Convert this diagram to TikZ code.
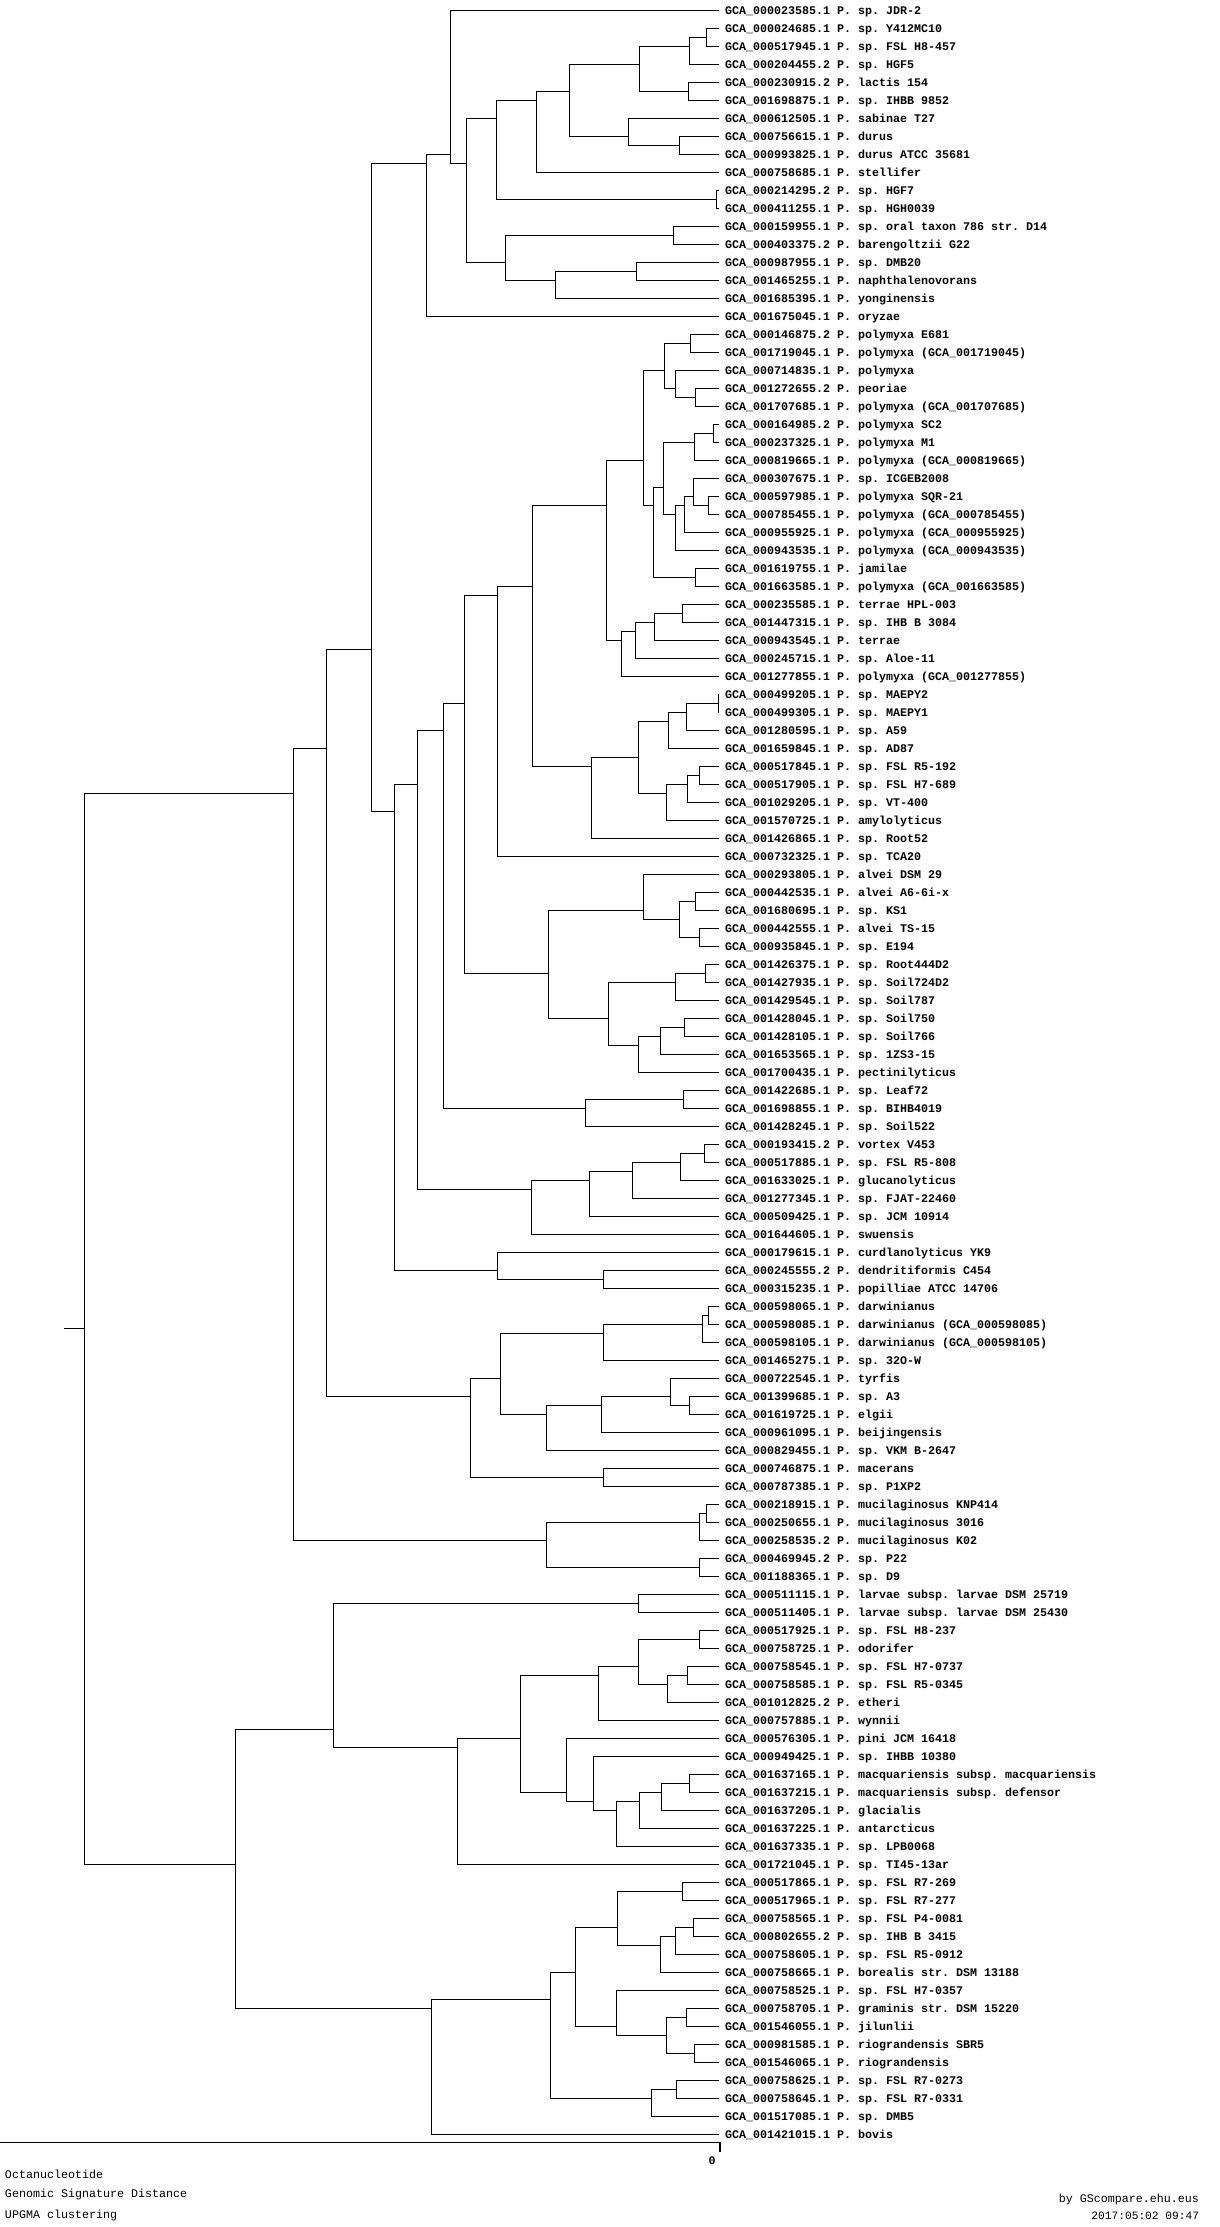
\documentclass[tikz,border=0pt]{standalone}
\usepackage{fontspec}
\setmonofont{Liberation Mono}
\usepackage{tikz}

\tikzset{
	branch/.style={line width=1.1pt, line join=miter},
	leaflbl/.style={anchor=west, inner xsep=6pt, inner ysep=0pt, outer sep=0pt, text height=7.6pt, text depth=0pt, font=\ttfamily\bfseries\fontsize{11.67}{14}\selectfont},
	infolbl/.style={inner sep=0pt, outer sep=0pt, font=\ttfamily\fontsize{11.67}{14}\selectfont}
}

\begin{document}
\begin{tikzpicture}[x=1pt, y=-1pt]
			\useasboundingbox (0,0) rectangle (1220,2227);

			% leaves: tip point and label
			\foreach \lab [count=\i] in {
				GCA\_000023585.1 P. sp. JDR-2, GCA\_000024685.1 P. sp. Y412MC10, GCA\_000517945.1 P. sp. FSL H8-457,
				GCA\_000204455.2 P. sp. HGF5, GCA\_000230915.2 P. lactis 154, GCA\_001698875.1 P. sp. IHBB 9852,
				GCA\_000612505.1 P. sabinae T27, GCA\_000756615.1 P. durus, GCA\_000993825.1 P. durus ATCC 35681,
				GCA\_000758685.1 P. stellifer, GCA\_000214295.2 P. sp. HGF7, GCA\_000411255.1 P. sp. HGH0039,
				GCA\_000159955.1 P. sp. oral taxon 786 str. D14, GCA\_000403375.2 P. barengoltzii G22, GCA\_000987955.1 P. sp. DMB20,
				GCA\_001465255.1 P. naphthalenovorans, GCA\_001685395.1 P. yonginensis, GCA\_001675045.1 P. oryzae,
				GCA\_000146875.2 P. polymyxa E681, GCA\_001719045.1 P. polymyxa (GCA\_001719045), GCA\_000714835.1 P. polymyxa,
				GCA\_001272655.2 P. peoriae, GCA\_001707685.1 P. polymyxa (GCA\_001707685), GCA\_000164985.2 P. polymyxa SC2,
				GCA\_000237325.1 P. polymyxa M1, GCA\_000819665.1 P. polymyxa (GCA\_000819665), GCA\_000307675.1 P. sp. ICGEB2008,
				GCA\_000597985.1 P. polymyxa SQR-21, GCA\_000785455.1 P. polymyxa (GCA\_000785455), GCA\_000955925.1 P. polymyxa (GCA\_000955925),
				GCA\_000943535.1 P. polymyxa (GCA\_000943535), GCA\_001619755.1 P. jamilae, GCA\_001663585.1 P. polymyxa (GCA\_001663585),
				GCA\_000235585.1 P. terrae HPL-003, GCA\_001447315.1 P. sp. IHB B 3084, GCA\_000943545.1 P. terrae,
				GCA\_000245715.1 P. sp. Aloe-11, GCA\_001277855.1 P. polymyxa (GCA\_001277855), GCA\_000499205.1 P. sp. MAEPY2,
				GCA\_000499305.1 P. sp. MAEPY1, GCA\_001280595.1 P. sp. A59, GCA\_001659845.1 P. sp. AD87,
				GCA\_000517845.1 P. sp. FSL R5-192, GCA\_000517905.1 P. sp. FSL H7-689, GCA\_001029205.1 P. sp. VT-400,
				GCA\_001570725.1 P. amylolyticus, GCA\_001426865.1 P. sp. Root52, GCA\_000732325.1 P. sp. TCA20,
				GCA\_000293805.1 P. alvei DSM 29, GCA\_000442535.1 P. alvei A6-6i-x, GCA\_001680695.1 P. sp. KS1,
				GCA\_000442555.1 P. alvei TS-15, GCA\_000935845.1 P. sp. E194, GCA\_001426375.1 P. sp. Root444D2,
				GCA\_001427935.1 P. sp. Soil724D2, GCA\_001429545.1 P. sp. Soil787, GCA\_001428045.1 P. sp. Soil750,
				GCA\_001428105.1 P. sp. Soil766, GCA\_001653565.1 P. sp. 1ZS3-15, GCA\_001700435.1 P. pectinilyticus,
				GCA\_001422685.1 P. sp. Leaf72, GCA\_001698855.1 P. sp. BIHB4019, GCA\_001428245.1 P. sp. Soil522,
				GCA\_000193415.2 P. vortex V453, GCA\_000517885.1 P. sp. FSL R5-808, GCA\_001633025.1 P. glucanolyticus,
				GCA\_001277345.1 P. sp. FJAT-22460, GCA\_000509425.1 P. sp. JCM 10914, GCA\_001644605.1 P. swuensis,
				GCA\_000179615.1 P. curdlanolyticus YK9, GCA\_000245555.2 P. dendritiformis C454, GCA\_000315235.1 P. popilliae ATCC 14706,
				GCA\_000598065.1 P. darwinianus, GCA\_000598085.1 P. darwinianus (GCA\_000598085), GCA\_000598105.1 P. darwinianus (GCA\_000598105),
				GCA\_001465275.1 P. sp. 32O-W, GCA\_000722545.1 P. tyrfis, GCA\_001399685.1 P. sp. A3,
				GCA\_001619725.1 P. elgii, GCA\_000961095.1 P. beijingensis, GCA\_000829455.1 P. sp. VKM B-2647,
				GCA\_000746875.1 P. macerans, GCA\_000787385.1 P. sp. P1XP2, GCA\_000218915.1 P. mucilaginosus KNP414,
				GCA\_000250655.1 P. mucilaginosus 3016, GCA\_000258535.2 P. mucilaginosus K02, GCA\_000469945.2 P. sp. P22,
				GCA\_001188365.1 P. sp. D9, GCA\_000511115.1 P. larvae subsp. larvae DSM 25719, GCA\_000511405.1 P. larvae subsp. larvae DSM 25430,
				GCA\_000517925.1 P. sp. FSL H8-237, GCA\_000758725.1 P. odorifer, GCA\_000758545.1 P. sp. FSL H7-0737,
				GCA\_000758585.1 P. sp. FSL R5-0345, GCA\_001012825.2 P. etheri, GCA\_000757885.1 P. wynnii,
				GCA\_000576305.1 P. pini JCM 16418, GCA\_000949425.1 P. sp. IHBB 10380, GCA\_001637165.1 P. macquariensis subsp. macquariensis,
				GCA\_001637215.1 P. macquariensis subsp. defensor, GCA\_001637205.1 P. glacialis, GCA\_001637225.1 P. antarcticus,
				GCA\_001637335.1 P. sp. LPB0068, GCA\_001721045.1 P. sp. TI45-13ar, GCA\_000517865.1 P. sp. FSL R7-269,
				GCA\_000517965.1 P. sp. FSL R7-277, GCA\_000758565.1 P. sp. FSL P4-0081, GCA\_000802655.2 P. sp. IHB B 3415,
				GCA\_000758605.1 P. sp. FSL R5-0912, GCA\_000758665.1 P. borealis str. DSM 13188, GCA\_000758525.1 P. sp. FSL H7-0357,
				GCA\_000758705.1 P. graminis str. DSM 15220, GCA\_001546055.1 P. jilunlii, GCA\_000981585.1 P. riograndensis SBR5,
				GCA\_001546065.1 P. riograndensis, GCA\_000758625.1 P. sp. FSL R7-0273, GCA\_000758645.1 P. sp. FSL R7-0331,
				GCA\_001517085.1 P. sp. DMB5, GCA\_001421015.1 P. bovis} {
			\coordinate (t\i) at (719,{10.3+18*(\i-1)});
			\node[leaflbl] (l\i) at (t\i) {\lab}; }

			% clades: name / height / mean leaf index
			\foreach \n/\x/\m in {L/706.3/2.5, J/689.3/3, K/688.3/5.5, H/639.3/4, M/679.3/8.5, I/628.3/8, G/569.3/5.5,
				E/536.3/6, F/716.3/11.5, C/496.3/7, N/673.3/13.5, P/636.3/15.5, O/555.3/16, D/505.3/15, B/466.3/9.5,
				A/450.3/9, Q/426.3/9.5, T/690.3/19.5, V/695.3/22.5, U/675.3/22, S/664.3/21, AC/713.3/24.5, AA/694.3/25,
				AF/708.3/28.5, AE/693.3/28, AD/684.3/28.5, AB/675.3/29, Y/663.3/27.5, Z/695.3/32.5, X/653.3/28.5,
				W/643.3/26, AK/682.3/34.5, AJ/654.3/35, AI/635.3/35.5, AH/621.3/36, AG/606.3/28.5, AS/718.3/39.5,
				AR/686.3/40, AP/668.3/40.5, AU/699.3/43.5, AT/687.3/44, AQ/666.3/44.5, AO/638.3/42.5, AN/591.3/43,
				AL/532.3/33, AM/497.3/33.5, BA/695.3/50.5, BB/699.3/52.5, AZ/679.3/51.5, AX/643.3/51, BE/705.3/54.5,
				BC/675.3/55, BG/684.3/57.5, BF/660.3/58, BD/638.3/58.5, AY/608.3/57, AW/548.3/54.5, AV/464.3/39.5,
				BJ/683.3/61.5, BI/585.3/62, BH/443.3/41, BP/704.3/64.5, BO/680.3/65, BN/632.3/65.5, BM/589.3/66,
				BL/531.3/66.5, BK/417.3/44, BS/603.3/71.5, BR/497.3/71, BQ/394.3/45.5, R/371.3/36.5, CA/708.3/73.5,
				BZ/702.3/74, BX/603.3/74.5, CD/689.3/78.5, CC/670.3/78, CB/601.3/78.5, BY/546.3/79, BV/500.3/77,
				BW/603.3/82.5, BU/470.3/78, BT/326.3/42, CI/706.3/84.5, CG/699.3/85, CH/699.3/87.5, CF/546.3/86,
				CE/293.3/44.5, CX/638.3/89.5, CP/699.3/91.5, CR/687.3/93.5, CQ/667.3/94, CO/638.3/93, CM/598.3/93.5,
				CW/689.3/99.5, CV/661.3/100, CU/639.3/100.5, CT/616.3/101, CS/593.3/100.5, CN/566.3/100, CL/520.3/97,
				CK/457.3/97.5, CJ/333.3/96.5, DE/682.3/105.5, DH/693.3/107.5, DG/675.3/108, DF/660.3/108.5,
				DC/617.3/107.5, DJ/686.3/112.5, DK/694.3/114.5, DI/666.3/113.5, DD/616.3/113, DA/575.3/110,
				DL/676.3/116.5, DB/651.3/117, CZ/550.3/111.5, CY/431.3/112, DM/235.3/104, root/84.3/74.25} {
			\coordinate (n\n) at (\x,{10.3+18*(\m-1)}); }
			\coordinate (stub) at (64,{10.3+18*73.25});

			% elbows: parent / upper child / lower child
			\foreach \p/\a/\b in {L/t2/t3, J/nL/t4, K/t5/t6, H/nJ/nK, M/t8/t9, I/t7/nM, G/nH/nI, E/nG/t10, F/t11/t12,
				C/nE/nF, N/t13/t14, P/t15/t16, O/nP/t17, D/nN/nO, B/nC/nD, A/t1/nB, Q/nA/t18,
				T/t19/t20, V/t22/t23, U/t21/nV, S/nT/nU, AC/t24/t25, AA/nAC/t26, AF/t28/t29, AE/t27/nAF, AD/nAE/t30,
				AB/nAD/t31, Y/nAA/nAB, Z/t32/t33, X/nY/nZ, W/nS/nX, AK/t34/t35, AJ/nAK/t36, AI/nAJ/t37, AH/nAI/t38,
				AG/nW/nAH, AS/t39/t40, AR/nAS/t41, AP/nAR/t42, AU/t43/t44, AT/nAU/t45, AQ/nAT/t46, AO/nAP/nAQ,
				AN/nAO/t47, AL/nAG/nAN, AM/nAL/t48, BA/t50/t51, BB/t52/t53, AZ/nBA/nBB, AX/t49/nAZ, BE/t54/t55,
				BC/nBE/t56, BG/t57/t58, BF/nBG/t59, BD/nBF/t60, AY/nBC/nBD, AW/nAX/nAY, AV/nAM/nAW, BJ/t61/t62,
				BI/nBJ/t63, BH/nAV/nBI, BP/t64/t65, BO/nBP/t66, BN/nBO/t67, BM/nBN/t68, BL/nBM/t69, BK/nBH/nBL,
				BS/t71/t72, BR/t70/nBS, BQ/nBK/nBR, R/nQ/nBQ, CA/t73/t74, BZ/nCA/t75, BX/nBZ/t76, CD/t78/t79,
				CC/t77/nCD, CB/nCC/t80, BY/nCB/t81, BV/nBX/nBY, BW/t82/t83, BU/nBV/nBW, BT/nR/nBU, CI/t84/t85,
				CG/nCI/t86, CH/t87/t88, CF/nCG/nCH, CE/nBT/nCF, CX/t89/t90, CP/t91/t92, CR/t93/t94, CQ/nCR/t95,
				CO/nCP/nCQ, CM/nCO/t96, CW/t99/t100, CV/nCW/t101, CU/nCV/t102, CT/nCU/t103, CS/t98/nCT, CN/t97/nCS,
				CL/nCM/nCN, CK/nCL/t104, CJ/nCX/nCK, DE/t105/t106, DH/t107/t108, DG/nDH/t109, DF/nDG/t110,
				DC/nDE/nDF, DJ/t112/t113, DK/t114/t115, DI/nDJ/nDK, DD/t111/nDI, DA/nDC/nDD, DL/t116/t117,
				DB/nDL/t118, CZ/nDA/nDB, CY/nCZ/t119, DM/nCJ/nCY, root/nCE/nDM} {
			\draw[branch] (\a) -| (n\p) |- (\b); }
			\draw[branch] (stub) -- (nroot); % root stub

			% distance axis
			\coordinate (axl) at (0,2142.7);
			\coordinate (axr) at (720,2142.7);
			\coordinate (tick) at (720,2152);
			\draw[branch] (axl) -- (axr) -- (tick);
			\node[infolbl, font=\ttfamily\bfseries\fontsize{11.67}{14}\selectfont] (zero) at (712,2161) {0};

			% method and credits
			\node[infolbl, anchor=west] (kmer) at (5,2174) {Octanucleotide};
			\node[infolbl, anchor=west] (dist) at (5,2194.3) {Genomic Signature Distance};
			\node[infolbl, anchor=west] (clus) at (5,2215) {UPGMA clustering};
			\node[infolbl, anchor=east] (credit) at (1199,2199.7) {by GScompare.ehu.eus};
			\node[infolbl, anchor=east, font=\ttfamily\fontsize{11.2}{13}\selectfont] (stamp) at (1199,2215.7) {2017:05:02 09:47};
		\end{tikzpicture}
\end{document}
